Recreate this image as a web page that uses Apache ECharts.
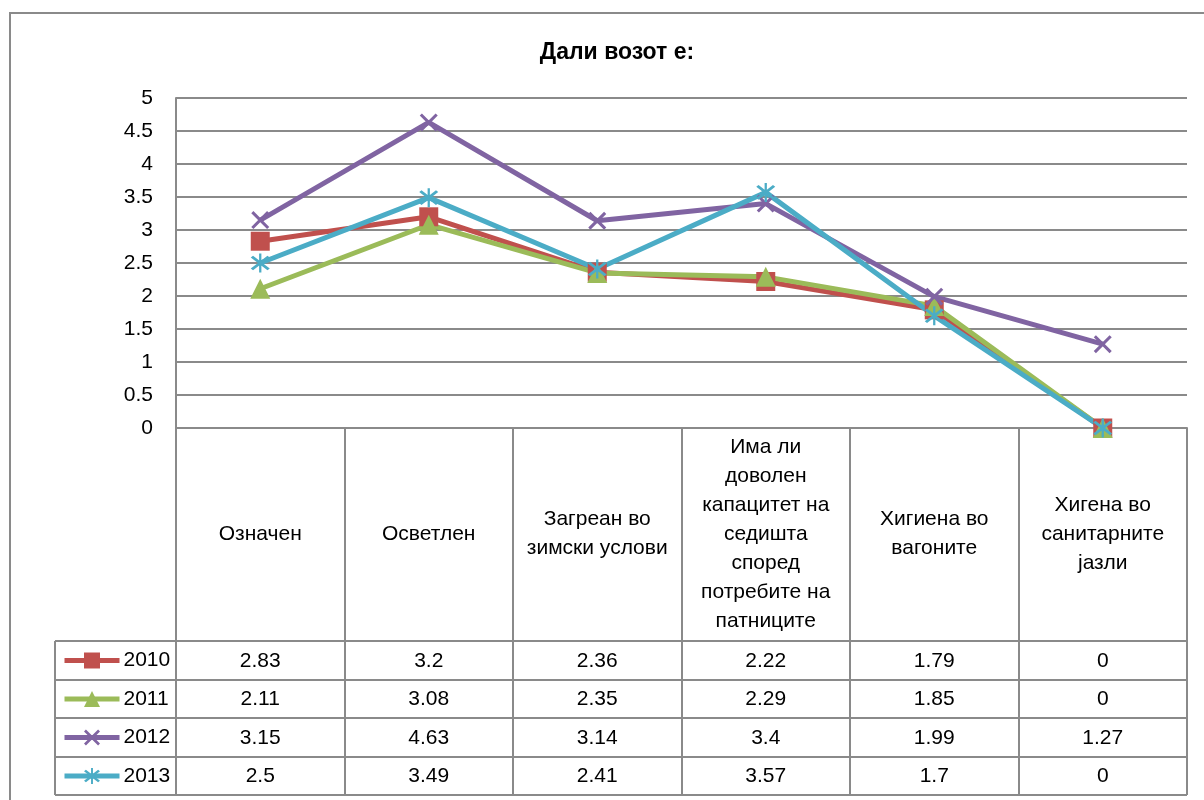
<!DOCTYPE html>
<html>
<head>
<meta charset="utf-8">
<script src="https://cdn.jsdelivr.net/npm/echarts@6/dist/echarts.min.js"></script>
<style>
html,body{margin:0;padding:0;background:#fff;}
#chart{width:1204px;height:800px;}
</style>
</head>
<body>
<div id="chart"></div>
<script>
var titleText = 'Дали возот е:';
var categories = ['Означен', 'Осветлен', 'Загреан во\nзимски услови', 'Има ли\nдоволен\nкапацитет на\nседишта\nспоред\nпотребите на\nпатниците', 'Хигиена во\nвагоните', 'Хигена во\nсанитарните\nјазли'];
var seriesNames = ['2010', '2011', '2012', '2013'];
var values2010 = [2.83, 3.2, 2.36, 2.22, 1.79, 0];
var values2011 = [2.11, 3.08, 2.35, 2.29, 1.85, 0];
var values2012 = [3.15, 4.63, 3.14, 3.4, 1.99, 1.27];
var values2013 = [2.5, 3.49, 2.41, 3.57, 1.7, 0];
var yTicks = [0, 0.5, 1, 1.5, 2, 2.5, 3, 3.5, 4, 4.5, 5];

var allValues = [values2010, values2011, values2012, values2013];
var colors = ['#C0504D', '#9BBB59', '#8064A2', '#4BACC6'];
var xSym = 'path://M0,1.2L1.2,0L10,8.8L8.8,10ZM8.8,0L10,1.2L1.2,10L0,8.8Z';
var starSym = 'path://M0,1.2L1.2,0L10,8.8L8.8,10ZM8.8,0L10,1.2L1.2,10L0,8.8ZM4.4,-1.5L5.6,-1.5L5.6,11.5L4.4,11.5Z';
var symbols = ['rect', 'triangle', xSym, starSym];
var symbolSizes = [19, 20, 18, 19];

var FONT = 'Liberation Sans';
var GRAY = '#8a8a8a';
var gridTop = 98, gridBottomY = 428, gridLeft = 176, gridRight = 1187;
var rowLines = [641, 680, 718, 757, 795];

var chart = echarts.init(document.getElementById('chart'));

var xAxes = [{
  type: 'category',
  data: categories,
  boundaryGap: true,
  position: 'bottom',
  axisLine: {show: true, lineStyle: {color: GRAY, width: 2}},
  axisTick: {show: true, interval: 0, length: rowLines[4] - gridBottomY, lineStyle: {color: GRAY, width: 2}},
  axisLabel: {interval: 0, margin: 106, verticalAlign: 'middle', align: 'center', color: '#000', fontFamily: FONT, fontSize: 21, lineHeight: 29},
  splitLine: {show: false}
}];
allValues.forEach(function (vals, i) {
  var center = (rowLines[i] + rowLines[i + 1]) / 2;
  xAxes.push({
    type: 'category',
    data: categories,
    boundaryGap: true,
    position: 'bottom',
    axisLine: {show: false},
    axisTick: {show: false},
    axisLabel: {
      interval: 0, margin: center - gridBottomY + 0.5, verticalAlign: 'middle', align: 'center',
      color: '#000', fontFamily: FONT, fontSize: 21,
      formatter: (function (v) { return function (val, idx) { return String(v[idx]); }; })(vals)
    },
    splitLine: {show: false}
  });
});

var series = seriesNames.map(function (name, i) {
  return {
    name: name,
    type: 'line',
    data: allValues[i],
    symbol: symbols[i],
    symbolSize: symbolSizes[i],
    showAllSymbol: true,
    lineStyle: {color: colors[i], width: 5},
    itemStyle: {color: colors[i]},
    emphasis: {disabled: true},
    animation: false
  };
});

var lines = [];
rowLines.forEach(function (y) {
  lines.push({type: 'line', shape: {x1: 55, y1: y, x2: gridRight, y2: y}, style: {stroke: GRAY, lineWidth: 2}, z: 1});
});
lines.push({type: 'line', shape: {x1: 55, y1: rowLines[0], x2: 55, y2: rowLines[4]}, style: {stroke: GRAY, lineWidth: 2}, z: 1});
lines.push({type: 'rect', shape: {x: 10, y: 13, width: 1400, height: 1000}, style: {fill: 'none', stroke: GRAY, lineWidth: 2}, z: 0});

chart.setOption({
  backgroundColor: '#fff',
  animation: false,
  title: {
    text: titleText, left: 612, top: 36, textAlign: 'center',
    textStyle: {fontFamily: FONT, fontSize: 23, fontWeight: 'bold', color: '#000'}
  },
  legend: {
    data: seriesNames, orient: 'vertical', left: 62, top: 648.5, padding: 0,
    itemWidth: 55, itemHeight: 20, itemGap: 14.5, selectedMode: false,
    lineStyle: {width: 5},
    textStyle: {fontFamily: FONT, fontSize: 21, color: '#000', lineHeight: 24, padding: [0, 0, 0, -1]}
  },
  grid: {left: gridLeft, right: 1204 - gridRight, top: gridTop, bottom: 800 - gridBottomY, containLabel: false},
  xAxis: xAxes,
  yAxis: {
    type: 'value', min: 0, max: 5, interval: 0.5,
    axisLine: {show: true, lineStyle: {color: GRAY, width: 2}},
    axisTick: {show: false},
    axisLabel: {margin: 23, color: '#000', fontFamily: FONT, fontSize: 21,
      formatter: function (v) { return yTicks.indexOf(v) >= 0 ? String(v) : ''; }},
    splitLine: {show: true, lineStyle: {color: GRAY, width: 2}}
  },
  series: series,
  graphic: lines
});
</script>
</body>
</html>
